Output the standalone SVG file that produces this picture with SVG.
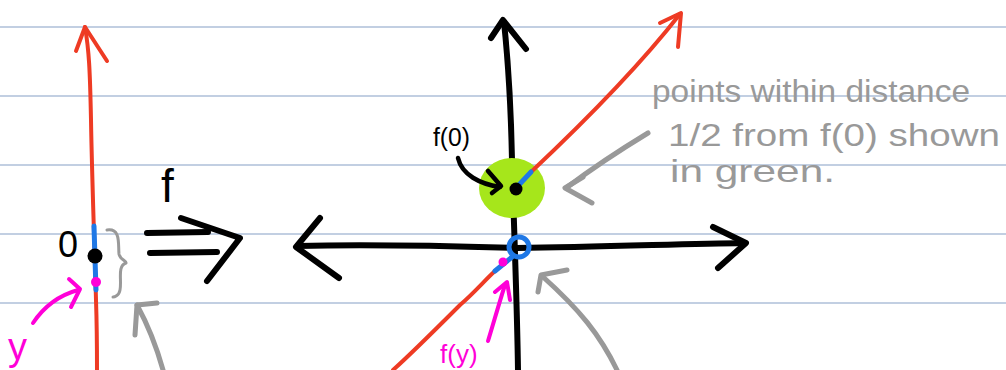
<svg xmlns="http://www.w3.org/2000/svg" width="1006" height="370" viewBox="0 0 1006 370">
<style>
.rule{stroke:#aebfd9;stroke-width:1.3}
.s{fill:none;stroke-linecap:round;stroke-linejoin:round}
.red{stroke:#ee3b24;stroke-width:4}
.blk{stroke:#000;stroke-width:6}
.blk4{stroke:#000;stroke-width:4.5}
.blue{stroke:#1f78e6;stroke-width:5}
.mag{stroke:#ff00d8;stroke-width:4}
.gry{stroke:#999;stroke-width:5}
.t{font-family:"Liberation Sans",Arial,sans-serif}
.gt{fill:#999;font-size:32px}
</style>
<rect width="1006" height="370" fill="#fff"/>
<g id="rules">
<line class="rule" x1="0" y1="27" x2="1006" y2="27"/>
<line class="rule" x1="0" y1="96" x2="1006" y2="96"/>
<line class="rule" x1="0" y1="165" x2="1006" y2="165"/>
<line class="rule" x1="0" y1="234" x2="1006" y2="234"/>
<line class="rule" x1="0" y1="303" x2="1006" y2="303"/>
</g>
<g id="left-line">
<path class="s red" d="M85,27 C89,50 90,70 91,120 C92,180 95,260 96,300 C97,330 97,350 97,370"/>
<path class="s red" d="M76,51 L85,27 L107,61"/>
<path class="s blue" d="M94,226 L96,290"/>
<circle cx="95" cy="256" r="7.5" fill="#000"/>
<circle cx="96" cy="282" r="5" fill="#ff00d8"/>
<text class="t" x="58" y="257" font-size="36" fill="#000">0</text>
<path class="s" stroke="#999" stroke-width="3" d="M107,230 C121,228 118,244 119,254 C120,260 127,261 126,263 C117,266 122,280 120,290 C119,296 114,297 113,297"/>
</g>
<g id="f-map">
<text class="t" x="161" y="202" font-size="46" fill="#000">f</text>
<path class="s blk" d="M147,233 L208,232 M150,253 L217,252"/>
<path class="s blk" d="M181,218 L240,238 L207,281"/>
</g>
<g id="center-axes">
<path class="s blk" d="M504,22 C508,60 511,110 512,160 C514,230 517,300 518,370"/>
<path class="s blk" d="M491,38 L503,20 L526,49"/>
<path class="s blk" d="M298,246 C380,244 450,246 517,248 C600,247 680,244 745,243"/>
<path class="s blk" d="M320,218 L296,247 L339,278"/>
<path class="s blk" d="M713,227 L746,243 L718,268"/>
</g>
<g id="green-region">
<ellipse cx="512" cy="188" rx="33" ry="30" fill="#a6e61b"/>
<path class="s red" d="M531,172 C565,140 630,78 680,14"/>
<path class="s red" d="M660,23 L681,13 L678,47"/>
<path class="s blue" d="M516,188 L531,172"/>
<circle cx="516" cy="189" r="6.5" fill="#000"/>
</g>
<g id="lower-line">
<path class="s red" d="M393,370 C410,355 440,325 460,305 C475,292 485,280 495,271"/>
<path class="s blue" d="M495,271 L512,257"/>
<circle cx="519" cy="247" r="10" fill="none" stroke="#1f78e6" stroke-width="5"/>
<circle cx="503" cy="262" r="4.5" fill="#ff00d8"/>
</g>
<g id="connectors">
<path class="s mag" d="M488,341 C493,325 500,300 505,285"/>
<path class="s mag" d="M495,292 L507,282 L510,300"/>
<path class="s mag" d="M33,323 C45,305 60,295 78,290"/>
<path class="s mag" d="M69,279 L80,289 L71,307"/>
<path class="s blk4" d="M458,158 C462,175 480,184 500,187"/>
<path class="s blk4" d="M488,171 L501,186 L492,193"/>
<path class="s gry" d="M648,133 C620,150 590,170 566,188"/>
<path class="s gry" d="M583,177 L565,188 L592,203"/>
<path class="s gry" d="M617,370 C600,335 580,310 542,276"/>
<path class="s gry" d="M567,270 L541,275 L538,292"/>
<path class="s gry" d="M163,370 C156,345 148,325 137,305"/>
<path class="s gry" d="M157,303 L137,305 L135,335"/>
</g>
<g id="labels">
<text class="t" x="433" y="146" font-size="26" fill="#000" textLength="37" lengthAdjust="spacingAndGlyphs">f(0)</text>
<text class="t" x="8" y="360" font-size="38" fill="#ff00d8">y</text>
<text class="t" x="440" y="363" font-size="26" fill="#ff00d8">f(y)</text>
<text class="t gt" x="652" y="102" textLength="318" lengthAdjust="spacingAndGlyphs">points within distance</text>
<text class="t gt" x="668" y="146" textLength="332" lengthAdjust="spacingAndGlyphs">1/2 from f(0) shown</text>
<text class="t gt" x="670" y="182" textLength="165" lengthAdjust="spacingAndGlyphs">in green.</text>
</g>
</svg>
